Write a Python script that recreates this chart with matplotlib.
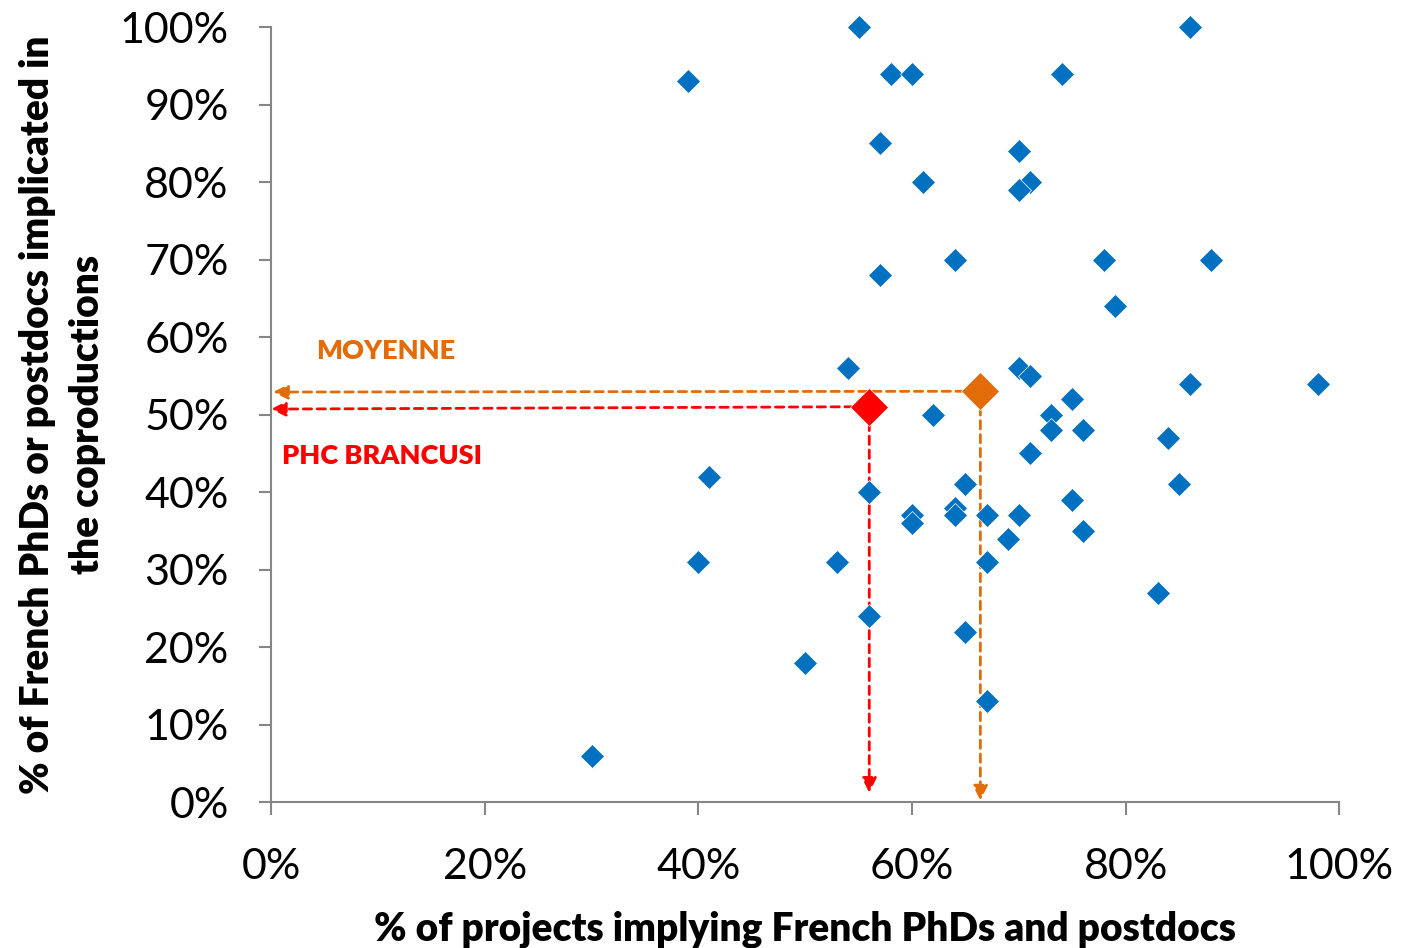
import matplotlib
matplotlib.use('Agg')
import matplotlib.pyplot as plt
from matplotlib.ticker import PercentFormatter

plt.rcParams['font.family'] = ['Lato', 'DejaVu Sans']

# --- données (en %) ---
x_proj = [55, 86, 39, 58, 60, 74, 57, 70, 61, 71, 70, 64, 57, 78, 88, 79,
          54, 70, 71, 86, 98, 62, 75, 73, 73, 76, 84, 71, 41, 56, 65, 85,
          75, 64, 64, 60, 60, 67, 70, 76, 69, 40, 53, 67, 83, 56, 65, 50, 67, 30]
y_phd = [100, 100, 93, 94, 94, 94, 85, 84, 80, 80, 79, 70, 68, 70, 70, 64,
         56, 56, 55, 54, 54, 50, 52, 50, 48, 48, 47, 45, 42, 40, 41, 41,
         39, 38, 37, 37, 36, 37, 37, 35, 34, 31, 31, 31, 27, 24, 22, 18, 13, 6]

brancusi = (56, 51)
moyenne = (66.4, 53)

bleu = '#0070C0'
orange = '#E36C0A'
rouge = '#FF0000'
gris = '#868686'

fig = plt.figure(figsize=(14.02, 9.48), dpi=100)
ax = fig.add_axes([0.1933, 0.154, 0.762, 0.8175])

ax.plot(x_proj, y_phd, 'D', color=bleu, ms=12.7, mec='white', mew=0.5,
        zorder=3, clip_on=False)

# fleches pointillées vers les axes
def fleche(x0, y0, x1, y1, c):
    ax.annotate('', xy=(x1, y1), xytext=(x0, y0),
                arrowprops=dict(arrowstyle='-|>', color=c, lw=2, ls=(0, (3, 2)),
                                mutation_scale=22, shrinkA=0, shrinkB=0),
                zorder=2, annotation_clip=False)

fleche(moyenne[0] - 1.5, moyenne[1], 0.2, moyenne[1] - 0.1, orange)
fleche(moyenne[0], moyenne[1] - 2, moyenne[0], 0.2, orange)
fleche(brancusi[0] - 1.5, brancusi[1], 0.0, brancusi[1] - 0.3, rouge)
fleche(brancusi[0], brancusi[1] - 2, brancusi[0], 1.2, rouge)

ax.plot(*moyenne, 'D', color=orange, ms=19.8, mec='white', mew=0.5, zorder=4)
ax.plot(*brancusi, 'D', color=rouge, ms=19.8, mec='white', mew=0.5, zorder=4)

ax.text(10.7, 58.2, 'MOYENNE', color=orange, fontsize=19.5, fontweight='heavy',
        ha='center', va='center')
ax.text(10.4, 44.7, 'PHC BRANCUSI', color=rouge, fontsize=19.5, fontweight='heavy',
        ha='center', va='center')

ax.set_xlim(0, 100)
ax.set_ylim(0, 100)
ax.set_xticks(range(0, 101, 20))
ax.set_yticks(range(0, 101, 10))
ax.xaxis.set_major_formatter(PercentFormatter(decimals=0))
ax.yaxis.set_major_formatter(PercentFormatter(decimals=0))

for s in ['top', 'right']:
    ax.spines[s].set_visible(False)
for s in ['left', 'bottom']:
    ax.spines[s].set_color(gris)
    ax.spines[s].set_linewidth(1.5)
ax.tick_params(colors=gris, length=9, width=1.5, labelsize=31, labelcolor='black')
ax.tick_params(axis='x', pad=24)
ax.tick_params(axis='y', pad=21.5)

ax.set_xlabel('% of projects implying French PhDs and postdocs', fontsize=28,
              fontweight='heavy', labelpad=18)
ax.set_ylabel('% of French PhDs or postdocs implicated in\nthe coproductions',
              fontsize=28, fontweight='heavy', labelpad=10, linespacing=1.43)

fig.savefig('out.png', dpi=100)
